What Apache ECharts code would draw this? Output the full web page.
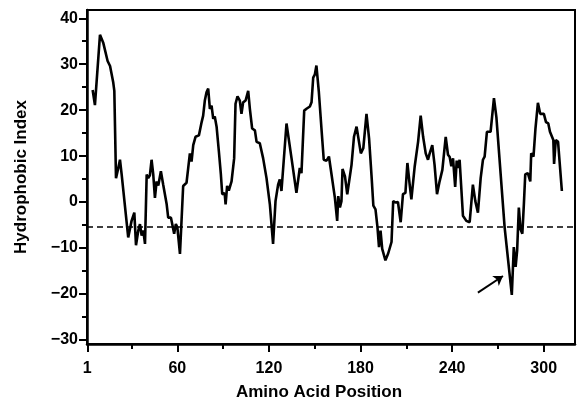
<html lang="en">
<head>
    <meta charset="UTF-8">
    <title>Hydrophobic Index</title>
    <script type="text/javascript" src="https://cdn.jsdelivr.net/npm/echarts/dist/echarts.min.js"></script>
    <style>
        html, body {
            margin: 0;
            padding: 0;
            background: #fff;
        }
        #chart {
            width: 578px;
            height: 406px;
        }
    </style>
</head>
<body>
<div id="chart"></div>
<script>
    // residue position of each window centre
    var positions = [
        4.5, 6, 9.3, 11.5, 14.3, 15.9, 17, 18, 18.7, 19.8, 21.3, 22.4, 23.5, 27.8, 30, 31.8, 32.9, 34.4, 35.5, 36.6,
        37.7, 38.8, 39.9, 40.9, 42, 43.1, 44.2, 45.3, 46.4, 47.5, 49.2, 50.7, 53, 54, 55.8, 57.9, 59, 60, 61.7, 63.8,
        66, 67.1, 68.2, 69.3, 70.4, 71.9, 74.1, 75.9, 76.9, 78, 79.1, 80.2, 81.3, 82.4, 83.5, 84.5, 85.7, 87.2, 88.5, 89.4,
        91, 91.6, 92.6, 93.7, 95.5, 97.2, 98.1, 99.4, 100.9, 102, 103.1, 104.7, 106.4, 107.5, 109, 110.8, 111.9, 114, 116.2, 118.4,
        120.6, 122.7, 124.3, 126, 127.1, 128.2, 131.5, 134.8, 138, 140.2, 141.3, 143.1, 144.6, 146.8, 147.9, 149, 150.1, 151.1, 152.7, 154.4,
        155.9, 157.7, 159.3, 161, 163.2, 164.7, 165.4, 166.5, 167.5, 168.2, 169.8, 171.3, 172.6, 174.1, 175.7, 177.4, 180.2, 181.8, 183.9, 185.6,
        187.3, 188.4, 189.8, 191.1, 192.1, 193.1, 194.2, 196.3, 198.1, 200.3, 201.4, 202.9, 204.5, 206.3, 207.8, 209.4, 210.7, 212.2, 213.3, 215.5,
        217.7, 219.4, 221, 222.7, 224.2, 225.3, 227, 228.5, 230.1, 231.8, 233.6, 235.8, 237.3, 238.4, 239.5, 240.6, 242, 243, 243.8, 244.9,
        247.1, 249.3, 251.5, 252.3, 253.6, 255.2, 256.9, 258.7, 260.2, 261.3, 262.8, 265.2, 267.4, 269, 274.4, 279.1, 280.4, 281.6, 282.6, 283.7,
        284.8, 286, 287, 287.9, 289.6, 291.2, 291.8, 293.3, 294.6, 296.2, 297.7, 299, 300.1, 301.5, 303, 304.1, 305, 306.3, 306.8, 307.9,
        309.4, 310.4, 311.9
    ];
    var hydro = [
        24.4, 21.1, 36.4, 34.6, 30.7, 29.6, 29.5, 26, 24.2, 5.2, 7.4, 9.2, 6, -7.7, -4.1, -2.3, -9.4, -6.2, -4.8, -7.3,
        -6.2, -9.1, 6, 5.2, 5.8, 9.2, 6, 0.9, 4.5, 3.6, 6.7, 3.8, -0.5, -3.4, -3.4, -6.9, -4.8, -5.5, -11.3, 3.5,
        4.2, 7.4, 10.6, 8.8, 12.4, 14.2, 14.5, 17.4, 18.8, 22.1, 23.9, 24.7, 20.3, 21, 18.1, 18.6, 16.4, 11, 6, 1.7,
        1.9, -0.5, 3.5, 2.5, 4.5, 9.5, 21.4, 23, 22.1, 19.2, 21.7, 22.1, 24.2, 20.3, 16, 15.6, 13.1, 12.8, 9.5, 5.2,
        -0.5, -9.1, 0.2, 3.8, 4.9, 2.4, 17.1, 9.5, 2, 7.4, 6.3, 19.9, 20.3, 20.8, 21.7, 27.1, 27.8, 29.7, 23.9, 16,
        9.2, 9, 9.9, 6, 0.9, -4.1, 1.3, -1.2, 0.2, 7.2, 5.6, 1.7, 2, 8.1, 14.2, 16.4, 10.6, 11.7, 19.2, 13.8,
        5.2, -0.8, -1.6, -5.5, -9.8, -6.2, -10.2, -12.7, -11.2, -8.7, 0.2, -0.1, 0, -4.4, 1.7, 2, 8.5, 3.8, 0.6, 7.8,
        13.1, 18.8, 14.2, 10.6, 9.2, 10.6, 12.4, 8.1, 1.7, 4.5, 7, 14.2, 10.3, 9.8, 7.8, 9.5, 3.3, 9, 7.4, 9.2,
        -3, -4.1, -4.4, -4, 3.8, 0.2, -2.3, 5.2, 9.2, 9.9, 15.3, 15.3, 22.6, 18.5, -5.5, -20.2, -9.8, -14.1, -10.5, -1.2,
        -5.9, -6.9, -0.5, 6, 6.3, 4.5, 10.6, 9.9, 16, 21.6, 19.2, 19.6, 19.2, 17.4, 17.1, 15.3, 15.6, 13.5, 8.3, 13.5,
        13.1, 12.8, 2.4
    ];

    var xLabels = [1, 60, 120, 180, 240, 300];
    var xMinorTicks = [30, 90, 150, 210, 270];
    var yLabels = [-30, -20, -10, 0, 10, 20, 30, 40];
    var yMinorTicks = [-25, -15, -5, 5, 15, 25, 35];
    var threshold = -5.3;
    var arrowFrom = [256.9, -19.7];
    var arrowTo = [273.3, -16.1];

    var points = positions.map(function (p, i) {
        return [p, hydro[i]];
    });

    var font = '"Liberation Sans", Arial, sans-serif';

    var chart = echarts.init(document.getElementById('chart'), null, {renderer: 'canvas'});

    var option = {
        backgroundColor: '#fff',
        animation: false,
        grid: {
            left: 87, right: 3, top: 10, bottom: 58,
            show: true,
            borderColor: '#000',
            borderWidth: 2
        },
        xAxis: [{
            type: 'value',
            min: 0.8,
            max: 320.5,
            name: 'Amino Acid Position',
            nameLocation: 'middle',
            nameGap: 40,
            nameTextStyle: {
                fontFamily: font, fontWeight: 'bold', fontSize: 17, color: '#000',
                padding: [0, 24, 0, 0]
            },
            axisLine: {show: true, onZero: false, lineStyle: {color: '#000', width: 2.5}},
            axisTick: {show: true, inside: false, length: 8, customValues: xLabels,
                lineStyle: {color: '#000', width: 2}},
            axisLabel: {customValues: xLabels, margin: 17,
                fontFamily: font, fontWeight: 'bold', fontSize: 16, color: '#000'},
            splitLine: {show: false}
        }, {
            type: 'value',
            position: 'bottom',
            min: 0.8,
            max: 320.5,
            axisLine: {show: false, onZero: false},
            axisTick: {show: true, inside: false, length: 5, customValues: xMinorTicks,
                lineStyle: {color: '#000', width: 2}},
            axisLabel: {show: false},
            splitLine: {show: false}
        }],
        yAxis: [{
            type: 'value',
            min: -30.9,
            max: 41.8,
            name: 'Hydrophobic Index',
            nameLocation: 'middle',
            nameGap: 57,
            nameTextStyle: {fontFamily: font, fontWeight: 'bold', fontSize: 17, color: '#000'},
            axisLine: {show: true, onZero: false, lineStyle: {color: '#000', width: 2.5}},
            axisTick: {show: true, inside: false, length: 8, customValues: yLabels,
                lineStyle: {color: '#000', width: 2}},
            axisLabel: {
                customValues: yLabels, margin: 9,
                fontFamily: font, fontWeight: 'bold', fontSize: 16, color: '#000',
                formatter: function (v) {
                    return v < 0 ? '\u2212' + Math.abs(v) : String(v);
                }
            },
            splitLine: {show: false}
        }, {
            type: 'value',
            position: 'left',
            min: -30.9,
            max: 41.8,
            axisLine: {show: false, onZero: false},
            axisTick: {show: true, inside: false, length: 5, customValues: yMinorTicks,
                lineStyle: {color: '#000', width: 2}},
            axisLabel: {show: false},
            splitLine: {show: false}
        }],
        series: [{
            type: 'line',
            data: points,
            showSymbol: false,
            lineStyle: {color: '#000', width: 2.6},
            z: 3,
            markLine: {
                silent: true,
                symbol: ['none', 'none'],
                label: {show: false},
                lineStyle: {color: '#000', width: 1.6, type: [6, 4]},
                data: [{yAxis: threshold}]
            }
        }, {
            type: 'line',
            data: [],
            markLine: {
                silent: true,
                symbol: ['none', 'arrow'],
                symbolSize: 9,
                label: {show: false},
                lineStyle: {color: '#000', width: 2, type: 'solid'},
                data: [[{coord: arrowFrom}, {coord: arrowTo}]]
            }
        }]
    };
    chart.setOption(option);
</script>
</body>
</html>
